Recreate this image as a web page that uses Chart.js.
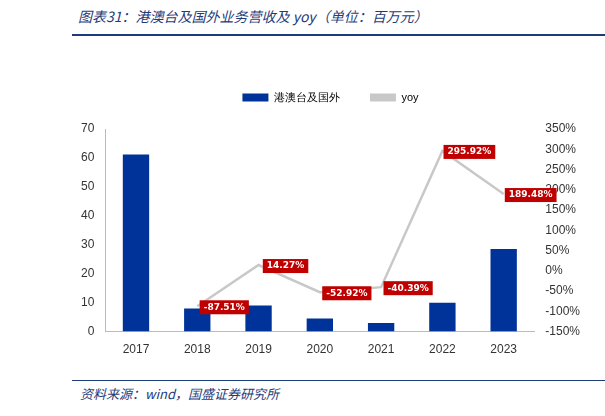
<!DOCTYPE html>
<html><head><meta charset="utf-8">
<script src="https://cdn.jsdelivr.net/npm/chart.js@4"></script>
<style>
body{margin:0;background:#fff;font-family:"Noto Sans CJK SC","Noto Sans",sans-serif}
#title{position:absolute;left:78px;top:6px;font-size:14px;font-style:italic;color:#1f3c7a}
#tl{position:absolute;left:72px;top:34px;width:533px;height:2px;background:#1f3c7a}
#fl{position:absolute;left:72px;top:380px;width:533px;height:1px;background:#1f3c7a}
#foot{position:absolute;left:80px;top:384px;font-size:13px;font-style:italic;color:#1f3c7a}
#wrap{position:absolute;left:78px;top:62px;width:505px;height:298px}
</style></head><body>
<div id="title">图表31：港澳台及国外业务营收及 yoy（单位：百万元）</div>
<div id="tl"></div>
<div id="wrap"><canvas id="c"></canvas></div>
<div id="fl"></div>
<div id="foot">资料来源：wind，国盛证券研究所</div>
<script>
const years = ['2017','2018','2019','2020','2021','2022','2023'];
const revenue = [61.2, 8, 9, 4.5, 3, 10, 28.5];
const yoy = [null, -87.51, 14.27, -52.92, -40.39, 295.92, 189.48];

// red boxes next to each yoy point
const yoyLabels = {
  id: 'yoyLabels',
  afterDatasetsDraw(chart) {
    const ctx = chart.ctx;
    const meta = chart.getDatasetMeta(1);
    ctx.save();
    ctx.font = 'bold 9px "DejaVu Sans"';
    meta.data.forEach((pt, i) => {
      if (yoy[i] == null) return;
      const txt = yoy[i].toFixed(2) + '%';
      const w = ctx.measureText(txt).width + 8, h = 14;
      const cx = pt.x + 27, cy = pt.y + 1;
      ctx.fillStyle = '#c00000';
      ctx.fillRect(cx - w / 2, cy - h / 2, w, h);
      ctx.fillStyle = '#fff';
      ctx.textAlign = 'center'; ctx.textBaseline = 'middle';
      ctx.fillText(txt, cx, cy);
    });
    ctx.restore();
  }
};

const legendGap = {id: 'legendGap', beforeInit(chart) {
  const fit = chart.legend.fit;
  chart.legend.fit = function () { fit.bind(chart.legend)(); this.height += 16; };
}};

new Chart(document.getElementById('c'), {
  data: {
    labels: years,
    datasets: [
      {type: 'bar', label: '港澳台及国外', data: revenue, backgroundColor: '#003399',
       barPercentage: 0.43, categoryPercentage: 1, yAxisID: 'y'},
      {type: 'line', label: 'yoy', data: yoy, borderColor: '#c8c8c8', borderWidth: 2.5,
       pointRadius: 0, yAxisID: 'y1', spanGaps: false}
    ]
  },
  options: {
    responsive: true, maintainAspectRatio: false, animation: false,
    plugins: {
      legend: {labels: {boxWidth: 26, boxHeight: 8, font: {size: 11}, color: '#333', padding: 30,
        generateLabels(chart) {
          return [
            {text: '港澳台及国外', fillStyle: '#003399', strokeStyle: '#003399', lineWidth: 0, datasetIndex: 0},
            {text: 'yoy', fillStyle: '#c8c8c8', strokeStyle: '#c8c8c8', lineWidth: 0, datasetIndex: 1}
          ];
        }}},
      tooltip: {enabled: false}
    },
    scales: {
      x: {grid: {display: false}, border: {color: '#bbb'}, ticks: {color: '#333', font: {size: 12}}},
      y: {min: 0, max: 70, ticks: {stepSize: 10, color: '#333', font: {size: 12}},
          grid: {display: false}, border: {color: '#bbb'}},
      y1: {position: 'right', min: -150, max: 350,
           ticks: {stepSize: 50, color: '#333', font: {size: 12}, callback: v => v + '%'},
           grid: {display: false}, border: {display: false}}
    }
  },
  plugins: [yoyLabels, legendGap]
});
</script>
</body></html>
